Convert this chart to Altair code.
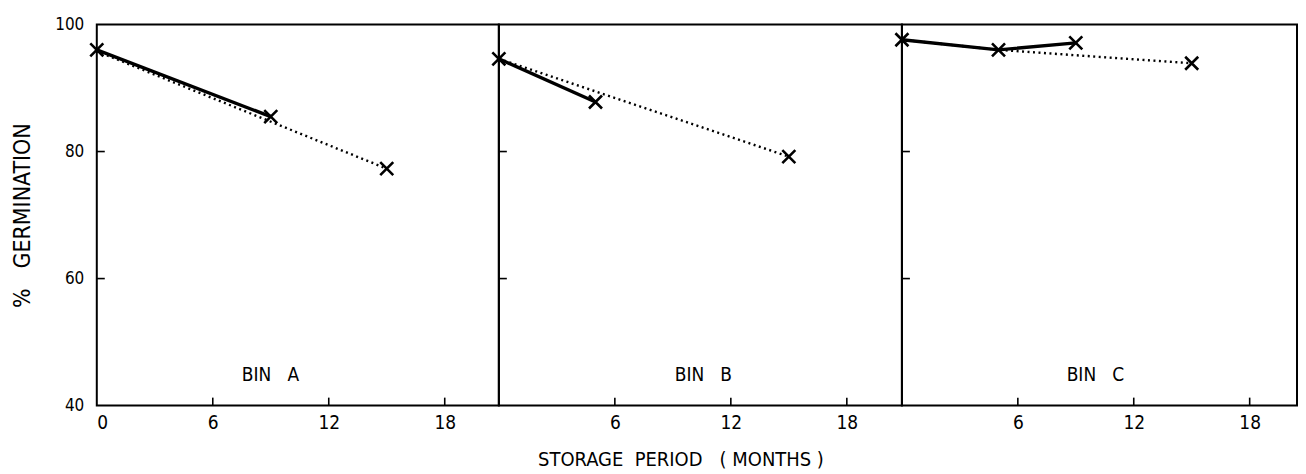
import altair as alt
import pandas as pd

# ---- data ----
bins = ["A", "B", "C"]
bin_titles = ["BIN\u00a0\u00a0\u00a0A", "BIN\u00a0\u00a0\u00a0B", "BIN\u00a0\u00a0\u00a0C"]

solid_months_A = [0, 9]
solid_germ_A = [96.0, 85.5]
solid_months_B = [0, 5]
solid_germ_B = [94.6, 87.8]
solid_months_C = [0, 5, 9]
solid_germ_C = [97.6, 96.0, 97.1]

dotted_months_A = [0, 15]
dotted_germ_A = [95.8, 77.3]
dotted_months_B = [0, 15]
dotted_germ_B = [94.6, 79.2]
dotted_months_C = [0, 5, 15]
dotted_germ_C = [97.6, 96.0, 93.9]

marker_months_A = [0, 9, 15]
marker_germ_A = [96.0, 85.5, 77.3]
marker_months_B = [0, 5, 15]
marker_germ_B = [94.6, 87.8, 79.2]
marker_months_C = [0, 5, 9, 15]
marker_germ_C = [97.6, 96.0, 97.1, 93.9]

x_tick_values = [6, 12, 18]
x_label_values_first = [0, 6, 12, 18]
y_tick_values = [60, 80]
y_label_values = [40, 60, 80, 100]

x_title = "STORAGE\u00a0\u00a0PERIOD\u00a0\u00a0\u00a0(\u00a0MONTHS\u00a0)"
y_title = "%\u00a0\u00a0\u00a0GERMINATION"

series = {
    "A": (solid_months_A, solid_germ_A, dotted_months_A, dotted_germ_A, marker_months_A, marker_germ_A),
    "B": (solid_months_B, solid_germ_B, dotted_months_B, dotted_germ_B, marker_months_B, marker_germ_B),
    "C": (solid_months_C, solid_germ_C, dotted_months_C, dotted_germ_C, marker_months_C, marker_germ_C),
}

FONT = "DejaVu Sans Condensed, Liberation Sans Narrow, DejaVu Sans"
H = 382
WIDTHS = [403, 404, 396]
XMAX = [20.8, 20.85, 20.45]
YDOM = [40, 100]
XSHAPE = "M-1,-1L1,1M-1,1L1,-1"
LABEL_X = [174, 205, 194]


def panel(i, b):
    sm, sg, dm, dg, mm, mg = series[b]
    solid_df = pd.DataFrame({"month": sm, "germ": sg})
    dotted_df = pd.DataFrame({"month": dm, "germ": dg})
    marker_df = pd.DataFrame({"month": mm, "germ": mg})
    xt_df = pd.DataFrame({"month": x_tick_values})
    yt_df = pd.DataFrame({"germ": y_tick_values})
    lab_df = pd.DataFrame({"label": [bin_titles[i]]})

    xkw = dict(ticks=False, domain=False, grid=False, labelPadding=8, labelFontSize=19)
    if i == 0:
        xaxis = alt.Axis(values=x_label_values_first, **xkw)
        yaxis = alt.Axis(values=y_label_values, ticks=False, domain=False, grid=False,
                         labelPadding=13, labelFontSize=17, title=y_title,
                         titleFontSize=23, titlePadding=20)
    elif i == 1:
        xaxis = alt.Axis(values=x_tick_values, title=x_title, titleFontSize=20,
                         titleX=182, titleY=54, titleBaseline="middle", **xkw)
        yaxis = None
    else:
        xaxis = alt.Axis(values=x_tick_values, **xkw)
        yaxis = None

    W = WIDTHS[i]
    xs = alt.Scale(domain=[0, XMAX[i]], nice=False, zero=False)
    ys = alt.Scale(domain=YDOM, nice=False, zero=False)
    X = alt.X("month:Q", scale=xs, axis=xaxis, title=x_title if i == 1 else None)
    Y = alt.Y("germ:Q", scale=ys, axis=yaxis, title=y_title if i == 0 else None)

    solid = alt.Chart(solid_df).mark_line(color="black", strokeWidth=3.4).encode(x=X, y=Y, order="month:Q")
    dotted = alt.Chart(dotted_df).mark_line(color="black", strokeWidth=2.4, strokeDash=[2, 3.5]).encode(
        x=X, y=Y, order="month:Q")
    marks = alt.Chart(marker_df).mark_point(shape=XSHAPE, filled=False, color="black", strokeWidth=2.6,
                                            size=170, opacity=1).encode(x=X, y=Y)
    xticks = alt.Chart(xt_df).mark_rule(color="black", strokeWidth=1.6).encode(
        x=X, y=alt.value(H), y2=alt.value(H - 8))
    yticks = alt.Chart(yt_df).mark_rule(color="black", strokeWidth=1.6).encode(
        y=Y, x=alt.value(0), x2=alt.value(8))
    label = alt.Chart(lab_df).mark_text(font=FONT, fontSize=19, color="black").encode(
        text="label:N", x=alt.value(LABEL_X[i]), y=alt.value(351))

    return alt.layer(dotted, solid, marks, xticks, yticks, label).properties(width=W, height=H)


chart = alt.hconcat(*[panel(i, b) for i, b in enumerate(bins)], spacing=0, bounds="flush").configure_view(
    stroke="black", strokeWidth=2
).configure_concat(spacing=0).configure_axis(
    labelFont=FONT, titleFont=FONT, labelColor="black", titleColor="black", titleFontWeight="normal"
).properties(
    padding={"left": 2, "top": 6, "right": 0, "bottom": 0}
)

chart.save("out.html", embed_options={"renderer": "svg", "actions": False})
